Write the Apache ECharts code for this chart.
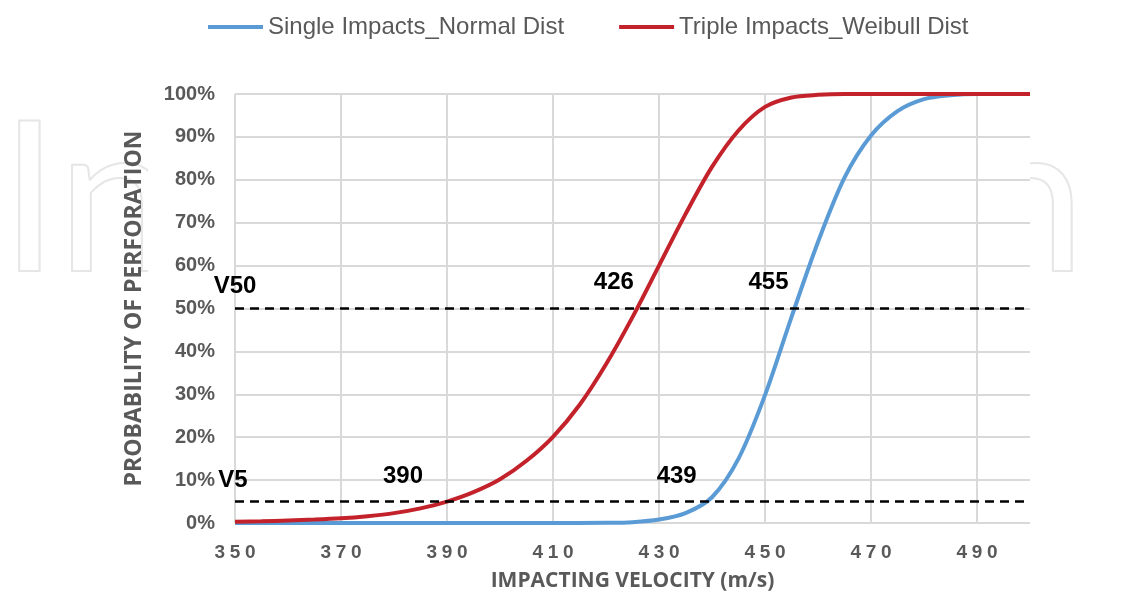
<!DOCTYPE html>
<html>
<head>
<meta charset="utf-8">
<script src="https://cdn.jsdelivr.net/npm/echarts@6/dist/echarts.min.js"></script>
<style>
html,body{margin:0;padding:0;background:#fff;}
#chart{width:1143px;height:597px;}
</style>
</head>
<body>
<div id="chart"></div>
<script>
// ---- data ----
const velocity = [350,355,360,365,370,375,380,385,390,395,400,405,410,415,420,425,430,435,440,445,450,455,460,465,470,475,480,485,490,495,500];
const singleNormal = [0,0,0,0,0,0,0,0,0,0,0,0,0,0,0.03,0.2,0.8,2.3,6,15,29.8,48,65.5,80.5,90.3,96,98.8,99.7,100,100,100];
const tripleWeibull = [0.3,0.4,0.6,0.8,1.1,1.6,2.3,3.4,5,7.2,10.2,14.5,20.1,27.5,37,48,60,72,83,91.5,97,99.2,99.8,100,100,100,100,100,100,100,100];
const seriesNames = ['Single Impacts_Normal Dist','Triple Impacts_Weibull Dist'];
const levelValues = [50, 5];
const levelNames = ['V50', 'V5'];
const singleCross = [455, 439];
const tripleCross = [426, 390];

const greyText = '#595959';
const pair = (xs, ys) => xs.map((x, i) => [x, ys[i]]);
const spaced = v => String(v).split('').join('\u2005');

const chart = echarts.init(document.getElementById('chart'), null, {renderer: 'canvas'});

const annLabel = (txt, offset) => ({
  show: true, formatter: txt, offset: offset,
  color: '#000', fontWeight: 'bold', fontSize: 24, fontFamily: 'Liberation Sans, Arial, sans-serif'
});

const option = {
  backgroundColor: '#fff',
  animation: false,
  graphic: [{
    type: 'text', z: -100, silent: true,
    style: {
      text: 'IntechOpen', x: 0, y: 98,
      font: 'normal 210px Lato, sans-serif',
      fill: 'none', stroke: '#e6e6e6', lineWidth: 2
    }
  }, {
    type: 'rect', z: -90, silent: true,
    shape: {x: 148, y: 60, width: 882, height: 470},
    style: {fill: '#fff'}
  }],
  legend: {
    top: 10, left: 203,
    itemWidth: 55, itemHeight: 4, itemGap: 55,
    icon: 'rect',
    textStyle: {color: greyText, fontSize: 24, fontFamily: 'Liberation Sans, Arial, sans-serif'},
    data: seriesNames
  },
  grid: {left: 235, right: 113, top: 94, bottom: 74, show: true, backgroundColor: '#fff', borderWidth: 0, containLabel: false},
  xAxis: {
    type: 'value', min: 350, max: 500, interval: 20,
    name: 'IMPACTING VELOCITY (m/s)', nameLocation: 'middle', nameGap: 48,
    nameTextStyle: {color: greyText, fontSize: 21, fontWeight: 'bold', fontFamily: '"Open Sans", sans-serif'},
    axisLine: {show: false}, axisTick: {show: false},
    axisLabel: {
      margin: 20, showMaxLabel: false,
      color: greyText, fontSize: 19, fontWeight: 'bold', fontFamily: 'Liberation Sans, Arial, sans-serif',
      formatter: v => spaced(v)
    },
    splitLine: {show: true, showMaxLine: false, lineStyle: {color: '#d9d9d9', width: 2}}
  },
  yAxis: {
    type: 'value', min: 0, max: 100, interval: 10,
    name: 'PROBABILITY OF PERFORATION', nameLocation: 'middle', nameGap: 89,
    nameTextStyle: {color: greyText, fontSize: 23, fontWeight: 'bold', fontFamily: '"Open Sans", sans-serif'},
    axisLine: {show: false}, axisTick: {show: false},
    axisLabel: {
      margin: 20, color: greyText, fontSize: 20, fontWeight: 'bold', fontFamily: 'Liberation Sans, Arial, sans-serif',
      formatter: '{value}%'
    },
    splitLine: {show: true, lineStyle: {color: '#d9d9d9', width: 2}}
  },
  series: [
    {
      name: seriesNames[0], type: 'line', data: pair(velocity, singleNormal),
      smooth: 0.3, showSymbol: false, symbol: 'none', z: 3,
      lineStyle: {color: '#5B9BD5', width: 4}, itemStyle: {color: '#5B9BD5'},
      markLine: {
        silent: true, symbol: 'none', z: 5,
        lineStyle: {color: '#000', type: [9, 6], width: 2.5},
        label: {show: false},
        data: levelValues.map(v => ({yAxis: v}))
      },
      markPoint: {
        silent: true, symbol: 'circle', symbolSize: 0,
        data: [
          {coord: [singleCross[0], levelValues[0]], label: annLabel(String(singleCross[0]), [-23, -26])},
          {coord: [singleCross[1], levelValues[1]], label: annLabel(String(singleCross[1]), [-30, -25])},
          {coord: [350, levelValues[0]], label: annLabel(levelNames[0], [0, -22])},
          {coord: [350, levelValues[1]], label: annLabel(levelNames[1], [-2, -21])}
        ]
      }
    },
    {
      name: seriesNames[1], type: 'line', data: pair(velocity, tripleWeibull),
      smooth: 0.3, showSymbol: false, symbol: 'none', z: 4,
      lineStyle: {color: '#C3222B', width: 4}, itemStyle: {color: '#C3222B'},
      markPoint: {
        silent: true, symbol: 'circle', symbolSize: 0,
        data: [
          {coord: [tripleCross[0], levelValues[0]], label: annLabel(String(tripleCross[0]), [-24, -26])},
          {coord: [tripleCross[1], levelValues[1]], label: annLabel(String(tripleCross[1]), [-44, -25])}
        ]
      }
    }
  ]
};
chart.setOption(option);
</script>
</body>
</html>
